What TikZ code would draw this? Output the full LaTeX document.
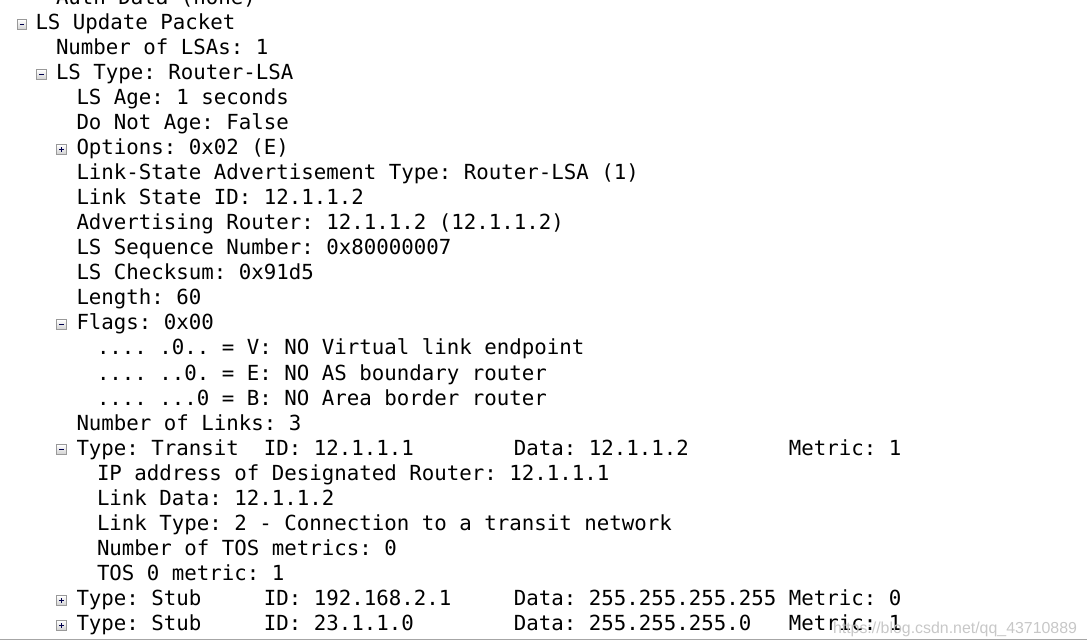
\documentclass[tikz,border=0pt]{standalone}
\usepackage{fontspec}
\newfontfamily\wsmono{DejaVu Sans Mono}
\newfontfamily\wmark{Liberation Sans}
\usetikzlibrary{positioning}
\frenchspacing

\begin{document}
\begin{tikzpicture}[x=1pt,y=-1pt]
\tikzstyle{every node}=[inner sep=0pt, outer sep=0pt]
\tikzstyle{row}=[anchor=base west, text=black, font=\wsmono\fontsize{20.76pt}{25pt}\selectfont]
\tikzstyle{treebox}=[rectangle, minimum size=9.5pt, draw=black!40, line width=.8pt,
  top color=white, bottom color=black!18]
\tikzstyle{minusbox}=[treebox, path picture={
  \draw[black!70!blue, line width=1pt] ([xshift=2.5pt]path picture bounding box.west) -- ([xshift=-2.5pt]path picture bounding box.east);}]
\tikzstyle{plusbox}=[treebox, path picture={
  \draw[black!70!blue, line width=1pt] ([xshift=2.5pt]path picture bounding box.west) -- ([xshift=-2.5pt]path picture bounding box.east);
  \draw[black!70!blue, line width=1pt] ([yshift=-2.5pt]path picture bounding box.north) -- ([yshift=2.5pt]path picture bounding box.south);}]
\useasboundingbox (0,0) rectangle (1087,644);
% rows of the packet tree
\node (r0) [row] at (56,5) {Auth Data (none)};
\node (b1) [minusbox] at (22,24.5) {};
\node (r1) [row] at (35.5,30) {LS Update Packet};
\node (r2) [row] at (56,55) {Number of LSAs: 1};
\node (b3) [minusbox] at (41.5,74.5) {};
\node (r3) [row] at (56,80) {LS Type: Router-LSA};
\node (r4) [row] at (76.5,105) {LS Age: 1 seconds};
\node (r5) [row] at (76.5,130) {Do Not Age: False};
\node (b6) [plusbox] at (61.5,149.5) {};
\node (r6) [row] at (76.5,155) {Options: 0x02 (E)};
\node (r7) [row] at (76.5,180) {Link-State Advertisement Type: Router-LSA (1)};
\node (r8) [row] at (76.5,205) {Link State ID: 12.1.1.2};
\node (r9) [row] at (76.5,230) {Advertising Router: 12.1.1.2 (12.1.1.2)};
\node (r10) [row] at (76.5,255) {LS Sequence Number: 0x80000007};
\node (r11) [row] at (76.5,280) {LS Checksum: 0x91d5};
\node (r12) [row] at (76.5,305) {Length: 60};
\node (b13) [minusbox] at (61.5,324.5) {};
\node (r13) [row] at (76.5,330) {Flags: 0x00};
\node (r14) [row] at (97,355) {.... .0.. = V: NO Virtual link endpoint};
\node (r15) [row] at (97,380) {.... ..0. = E: NO AS boundary router};
\node (r16) [row] at (97,405) {.... ...0 = B: NO Area border router};
\node (r17) [row] at (76.5,430) {Number of Links: 3};
\node (b18) [minusbox] at (61.5,449.5) {};
\node (r18) [row] at (76.5,455) {Type: Transit~~ID: 12.1.1.1~~~~~~~~Data: 12.1.1.2~~~~~~~~Metric: 1};
\node (r19) [row] at (97,480) {IP address of Designated Router: 12.1.1.1};
\node (r20) [row] at (97,505) {Link Data: 12.1.1.2};
\node (r21) [row] at (97,530) {Link Type: 2 - Connection to a transit network};
\node (r22) [row] at (97,555) {Number of TOS metrics: 0};
\node (r23) [row] at (97,580) {TOS 0 metric: 1};
\node (b24) [plusbox] at (61.5,600.5) {};
\node (r24) [row] at (76.5,605) {Type: Stub~~~~~ID: 192.168.2.1~~~~~Data: 255.255.255.255~Metric: 0};
\node (b25) [plusbox] at (61.5,625.5) {};
\node (r25) [row] at (76.5,630) {Type: Stub~~~~~ID: 23.1.1.0~~~~~~~~Data: 255.255.255.0~~~Metric: 1};
% watermark and bottom edge
\node (wm) [anchor=base west, text=black!22, font=\wmark\fontsize{15.9pt}{18pt}\selectfont] at (833,633) {https://blog.csdn.net/qq\_43710889};
\draw[black!35, line width=1.5pt] (0,639.5) -- (1087,639.5);
\end{tikzpicture}
\end{document}
